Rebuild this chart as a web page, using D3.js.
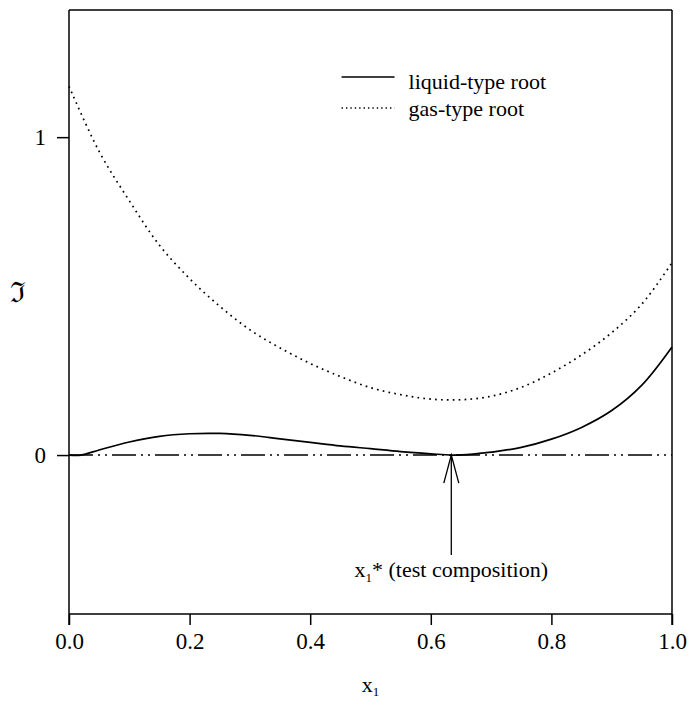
<!DOCTYPE html>
<html>
<head>
<meta charset="utf-8">
<script src="https://cdn.jsdelivr.net/npm/d3@7"></script>
<style>
  body { margin: 0; background: #fff; }
  text { font-family: "Liberation Serif", "Times New Roman", serif; fill: #000; }
</style>
</head>
<body>
<svg id="drawing_region"></svg>
<script>
// gas-type root (dotted)
const gasX = [0, 0.05, 0.10, 0.15, 0.20, 0.25, 0.30, 0.35, 0.40, 0.45, 0.50,
              0.55, 0.60, 0.65, 0.70, 0.75, 0.80, 0.85, 0.90, 0.95, 1.00];
const gasY = [1.16, 0.955, 0.80, 0.66, 0.555, 0.468, 0.394, 0.337, 0.288, 0.247, 0.212,
              0.190, 0.176, 0.174, 0.185, 0.213, 0.258, 0.315, 0.385, 0.475, 0.605];

// liquid-type root (solid)
const liquidX = [0, 0.02, 0.05, 0.10, 0.15, 0.20, 0.25, 0.30, 0.35, 0.40, 0.45, 0.50,
                 0.55, 0.60, 0.635, 0.67, 0.70, 0.75, 0.80, 0.85, 0.90, 0.95, 1.00];
const liquidY = [0, 0, 0.016, 0.041, 0.059, 0.067, 0.068, 0.062, 0.051, 0.040, 0.029, 0.020,
                 0.011, 0.004, 0, 0.003, 0.009, 0.024, 0.050, 0.087, 0.140, 0.220, 0.34];

const xTicks = [0, 0.2, 0.4, 0.6, 0.8, 1.0];
const yTicks = [0, 1];
const legendLabels = ['liquid-type root', 'gas-type root'];
const testX = 0.634;

const config = {
    width: 690,
    height: 703,
    margin: {top: 10, right: 18, bottom: 89, left: 69}
};

const svg = d3.select('#drawing_region')
    .attr('width', config.width)
    .attr('height', config.height);

const inner_width = config.width - config.margin.left - config.margin.right;
const inner_height = config.height - config.margin.top - config.margin.bottom;

const chart = svg.append('g')
    .attr('transform', `translate(${config.margin.left}, ${config.margin.top})`);

const xscale = d3.scaleLinear().domain([0, 1]).range([0, inner_width]);
const yscale = d3.scaleLinear().domain([-0.5, 1.4]).range([inner_height, 0]);

// axes
const xaxis = d3.axisBottom(xscale)
    .tickValues(xTicks)
    .tickFormat(d3.format('.1f'))
    .tickSize(11)
    .tickSizeOuter(0)
    .tickPadding(8);

const xaxis_group = chart.append('g')
    .attr('transform', `translate(0, ${inner_height})`)
    .call(xaxis);

const yaxis = d3.axisLeft(yscale)
    .tickValues(yTicks)
    .tickFormat(d3.format('d'))
    .tickSize(12)
    .tickSizeOuter(0)
    .tickPadding(11);

const yaxis_group = chart.append('g').call(yaxis);

[xaxis_group, yaxis_group].forEach(g => {
    g.select('.domain').remove();
    g.selectAll('line').attr('stroke', '#000').attr('stroke-width', 1.5);
    g.selectAll('text')
        .style('font-size', '23px')
        .style('font-family', '"Liberation Serif", serif');
});

// frame
const frame = chart.append('g')
    .attr('stroke', '#000')
    .attr('stroke-width', 1.5)
    .attr('fill', 'none');
frame.append('line').attr('x1', xscale(0)).attr('x2', xscale(0))
    .attr('y1', 0).attr('y2', inner_height + 11);
frame.append('line').attr('x1', xscale(1)).attr('x2', xscale(1))
    .attr('y1', 0).attr('y2', inner_height + 11);
frame.append('line').attr('x1', xscale(0)).attr('x2', xscale(1))
    .attr('y1', 0).attr('y2', 0);
frame.append('line').attr('x1', xscale(0)).attr('x2', xscale(1))
    .attr('y1', inner_height).attr('y2', inner_height);

// zero reference line (dash-dot-dot)
chart.append('line')
    .attr('x1', xscale(0)).attr('x2', xscale(1))
    .attr('y1', yscale(0)).attr('y2', yscale(0))
    .attr('stroke', '#000')
    .attr('stroke-width', 1.5)
    .attr('stroke-dasharray', '24,5,2,5,2,5');

const line = d3.line()
    .x(d => xscale(d[0]))
    .y(d => yscale(d[1]))
    .curve(d3.curveCatmullRom.alpha(0.5));

chart.append('path')
    .datum(gasX.map((x, i) => [x, gasY[i]]))
    .attr('d', line)
    .attr('fill', 'none')
    .attr('stroke', '#000')
    .attr('stroke-width', 1.7)
    .attr('stroke-dasharray', '1.7,4.2');

chart.append('path')
    .datum(liquidX.map((x, i) => [x, liquidY[i]]))
    .attr('d', line)
    .attr('fill', 'none')
    .attr('stroke', '#000')
    .attr('stroke-width', 1.7);

// test composition arrow
const ax = xscale(testX);
const ay = yscale(0);
const arrow = chart.append('g')
    .attr('stroke', '#000')
    .attr('stroke-width', 1.3)
    .attr('fill', 'none');
arrow.append('line').attr('x1', ax).attr('x2', ax).attr('y1', ay).attr('y2', ay + 100);
arrow.append('path')
    .attr('d', `M${ax - 7.5},${ay + 28} L${ax},${ay} L${ax + 7.5},${ay + 28}`);

const note = chart.append('text')
    .attr('x', ax)
    .attr('y', ay + 122)
    .attr('text-anchor', 'middle')
    .style('font-size', '22px');
note.append('tspan').text('x');
note.append('tspan').attr('dy', 5).style('font-size', '13px').text('1');
note.append('tspan').attr('dy', -5).text('* (test composition)');

// legend
const legend = chart.append('g')
    .attr('transform', `translate(${xscale(0.452)}, 0)`);
legendLabels.forEach((label, i) => {
    const ly = 67 + i * 31;
    legend.append('line')
        .attr('x1', 0).attr('x2', 53)
        .attr('y1', ly).attr('y2', ly)
        .attr('stroke', '#000')
        .attr('stroke-width', i === 0 ? 1.6 : 1.4)
        .attr('stroke-dasharray', i === 0 ? null : '1.4,3');
    legend.append('text')
        .attr('x', 67)
        .attr('y', ly + 12 - i * 4)
        .style('font-size', '22px')
        .text(label);
});

// axis labels
const xlabel = svg.append('text')
    .attr('x', config.margin.left + inner_width / 2)
    .attr('y', 692)
    .attr('text-anchor', 'middle')
    .style('font-size', '22px');
xlabel.append('tspan').text('x');
xlabel.append('tspan').attr('dy', 4).style('font-size', '13px').text('1');

svg.append('text')
    .attr('x', 18)
    .attr('y', 302)
    .attr('text-anchor', 'middle')
    .style('font-family', '"DejaVu Serif", serif')
    .style('font-size', '28px')
    .text('\u2111');
</script>
</body>
</html>
